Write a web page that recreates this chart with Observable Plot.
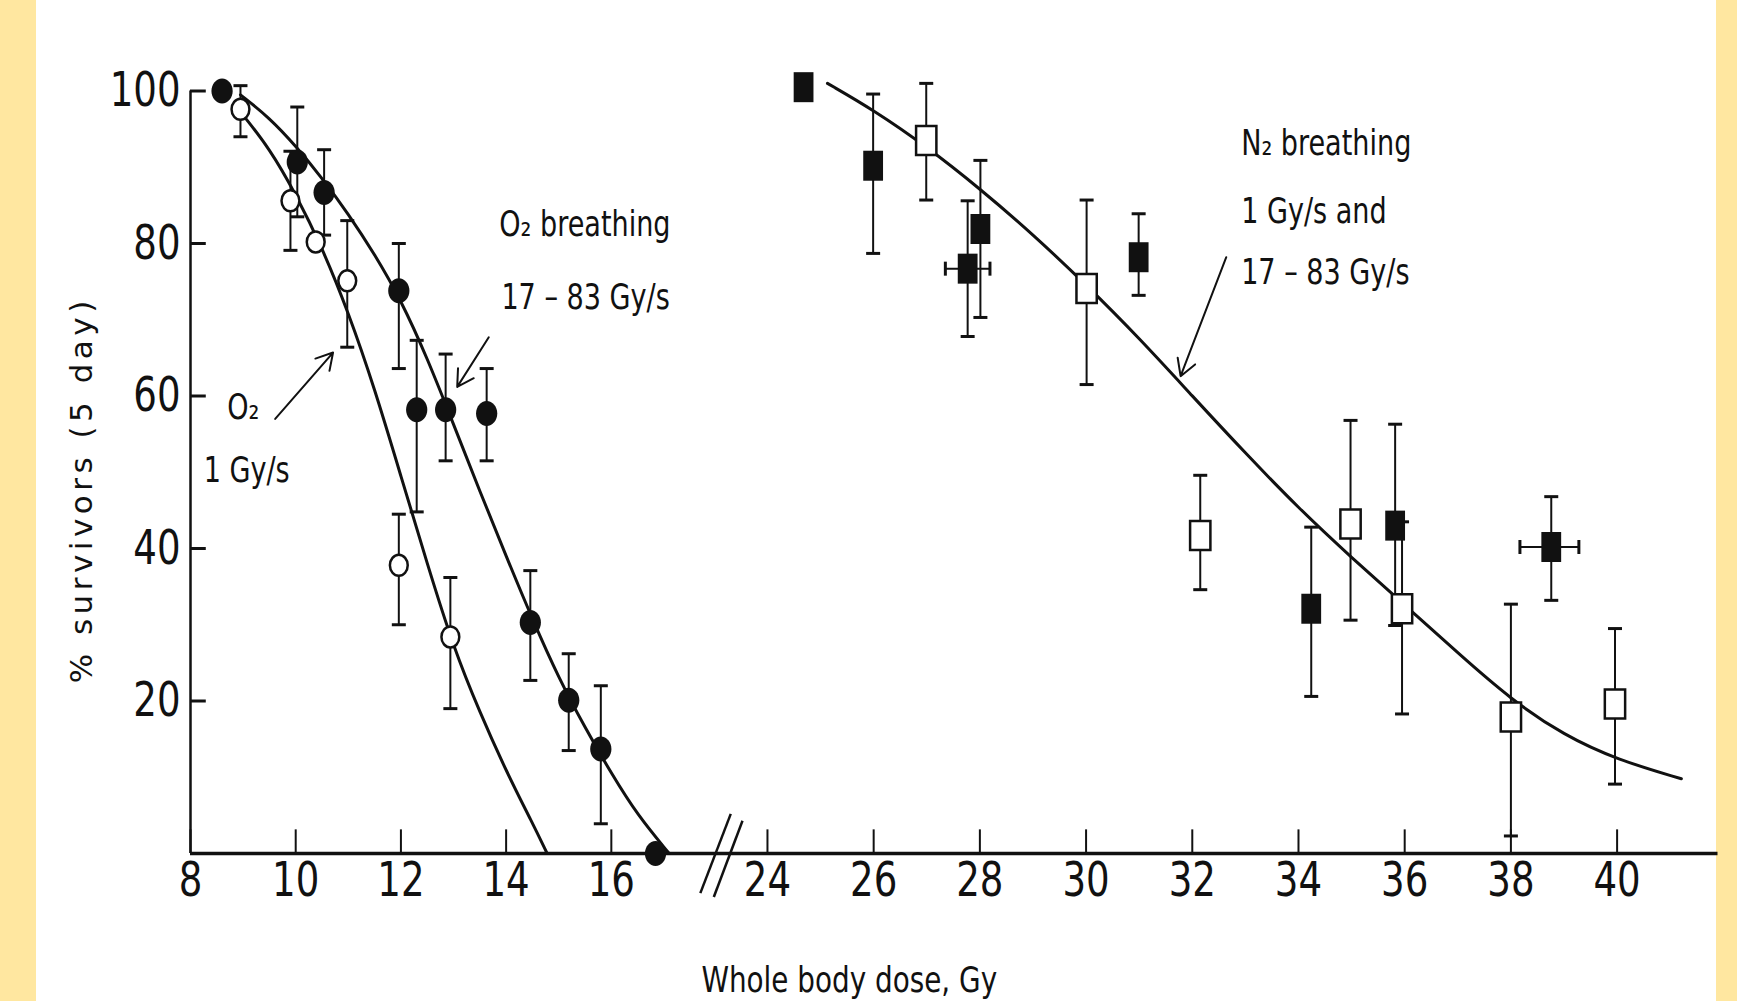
<!DOCTYPE html>
<html>
<head>
<meta charset="utf-8">
<script src="https://cdn.jsdelivr.net/npm/d3@7"></script>
<script src="https://cdn.jsdelivr.net/npm/@observablehq/plot@0.6"></script>
<style>
  html, body { margin: 0; padding: 0; width: 1737px; height: 1001px; overflow: hidden; background: #FFE7A0; }
  #panel { position: absolute; left: 36px; top: 0; width: 1680px; height: 1001px; background: #ffffff; }
</style>
</head>
<body>
<div id="panel"></div>
<script>
// ---------- tick labels ----------
const xTicks = [8, 10, 12, 14, 16, 24, 26, 28, 30, 32, 34, 36, 38, 40];
const yTicks = [20, 40, 60, 80, 100];

// ---------- O2 breathing, 17-83 Gy/s (filled circles) ----------
const o2FastX  = [8.6, 10.03, 10.54, 11.96, 12.30, 12.85, 13.63, 14.46, 15.19, 15.80, 16.84];
const o2FastY  = [100, 90.7, 86.7, 73.8, 58.2, 58.2, 57.7, 30.3, 20.1, 13.7, 0];
const o2FastLo = [null, 83.5, 81.1, 63.6, 44.8, 51.5, 51.5, 22.7, 13.5, 3.9, null];
const o2FastHi = [null, 97.9, 92.3, 80.0, 67.3, 65.5, 63.6, 37.1, 26.2, 22.0, null];

// ---------- O2, 1 Gy/s (open circles) ----------
const o2SlowX  = [8.95, 9.90, 10.38, 10.98, 11.96, 12.94];
const o2SlowY  = [97.6, 85.6, 80.2, 75.1, 37.8, 28.4];
const o2SlowLo = [94.0, 79.1, null, 66.4, 30.0, 19.0];
const o2SlowHi = [100.7, 92.1, null, 83.0, 44.5, 36.2];

// ---------- N2 breathing, 17-83 Gy/s (filled squares) ----------
const n2FastX   = [24.68, 25.99, 27.77, 28.01, 30.99, 34.24, 35.82, 38.76];
const n2FastY   = [100.5, 90.2, 76.7, 81.9, 78.2, 32.1, 43.0, 40.2];
const n2FastLo  = [null, 78.7, 67.8, 70.3, 73.2, 20.6, 29.9, 33.2];
const n2FastHi  = [null, 99.6, 85.6, 90.9, 83.9, 42.8, 56.3, 46.8];
const n2FastXLo = [null, null, 27.35, null, null, null, null, 38.17];
const n2FastXHi = [null, null, 28.19, null, null, null, null, 39.28];

// ---------- N2 breathing, 1 Gy/s (open squares) ----------
const n2SlowX  = [26.99, 30.01, 32.15, 34.98, 35.95, 38.0, 39.96];
const n2SlowY  = [93.5, 74.1, 41.7, 43.2, 32.1, 17.9, 19.6];
const n2SlowLo = [85.7, 61.5, 34.6, 30.6, 18.3, 2.3, 9.1];
const n2SlowHi = [101, 85.7, 49.6, 56.8, 43.5, 32.7, 29.5];

// ---------- fitted curves ----------
const o2FastCurveX = [8.95, 9.5, 10.0, 10.5, 11.0, 11.5, 12.0, 12.5, 13.0, 13.5, 14.0, 14.5, 15.0, 15.5, 16.0, 16.5, 17.1];
const o2FastCurveY = [99.5, 96.5, 92.8, 88.6, 83.9, 78.6, 72.6, 65.0, 56.3, 47.5, 39.0, 30.7, 23.0, 16.5, 10.5, 5.0, 0];
const o2SlowCurveX = [8.98, 9.5, 10.0, 10.5, 11.0, 11.5, 12.0, 12.5, 13.0, 13.5, 14.0, 14.5, 14.78];
const o2SlowCurveY = [97.0, 92.5, 86.5, 79.5, 71.0, 61.0, 49.5, 38.0, 27.0, 18.5, 10.8, 4.0, 0];
const n2CurveX = [25.13, 26.0, 27.0, 28.0, 29.0, 30.0, 31.0, 32.0, 33.0, 34.0, 35.0, 36.0, 37.0, 38.0, 39.0, 40.0, 41.21];
const n2CurveY = [101, 97.5, 92.7, 87.2, 81.2, 74.6, 67.6, 60.0, 52.5, 45.3, 38.8, 32.6, 26.3, 20.2, 15.5, 12.3, 9.8];

// ---------- annotations ----------
const labelText = ["O\u2082", "1 Gy/s", "O\u2082 breathing", "17 \u2013 83 Gy/s", "N\u2082 breathing", "1 Gy/s and", "17 \u2013 83 Gy/s"];
const labelX = [8.70, 8.25, 13.87, 13.91, 32.92, 32.92, 32.92];
const labelY = [58.4, 50.2, 82.5, 72.9, 93.1, 84.2, 76.1];
const arrowX1 = [9.61, 13.67, 32.64];
const arrowY1 = [57.0, 67.7, 78.2];
const arrowX2 = [10.71, 13.07, 31.78];
const arrowY2 = [65.7, 61.2, 62.6];
const breakX1 = [18.3, 20.25];
const breakY1 = [-5.2, -5.7];
const breakX2 = [22.7, 23.53];
const breakY2 = [5.2, 4.3];
const xTitle = "Whole body dose, Gy";
const yTitle = "% survivors (5 day)";

// ---------- tables ----------
const table = (xs, ys, lo, hi, xlo, xhi) => xs.map((x, i) => ({
  x, y: ys[i],
  lo: lo ? lo[i] : null, hi: hi ? hi[i] : null,
  xlo: xlo ? xlo[i] : null, xhi: xhi ? xhi[i] : null
}));
const o2Fast = table(o2FastX, o2FastY, o2FastLo, o2FastHi);
const o2Slow = table(o2SlowX, o2SlowY, o2SlowLo, o2SlowHi);
const n2Fast = table(n2FastX, n2FastY, n2FastLo, n2FastHi, n2FastXLo, n2FastXHi);
const n2Slow = table(n2SlowX, n2SlowY, n2SlowLo, n2SlowHi);
const allPts = [...o2Fast, ...o2Slow, ...n2Fast, ...n2Slow];
const vErr = allPts.filter(d => d.lo != null);
const hErr = allPts.filter(d => d.xlo != null);
const curve = (xs, ys) => xs.map((x, i) => ({x, y: ys[i]}));
const labels = labelText.map((t, i) => ({t, x: labelX[i], y: labelY[i]}));
const arrows = arrowX1.map((x1, i) => ({x1, y1: arrowY1[i], x2: arrowX2[i], y2: arrowY2[i]}));
const breaks = breakX1.map((x1, i) => ({x1, y1: breakY1[i], x2: breakX2[i], y2: breakY2[i]}));

// ---------- custom symbols ----------
const ellipse = (ax, ay) => ({draw(ctx, size) {
  const r = Math.sqrt(size / Math.PI), rx = r * ax, ry = r * ay, k = 0.5523;
  ctx.moveTo(rx, 0);
  ctx.bezierCurveTo(rx, ry * k, rx * k, ry, 0, ry);
  ctx.bezierCurveTo(-rx * k, ry, -rx, ry * k, -rx, 0);
  ctx.bezierCurveTo(-rx, -ry * k, -rx * k, -ry, 0, -ry);
  ctx.bezierCurveTo(rx * k, -ry, rx, -ry * k, rx, 0);
  ctx.closePath();
}});
const box = (ax, ay) => ({draw(ctx, size) {
  const r = Math.sqrt(size / Math.PI);
  ctx.rect(-r * ax, -r * ay, 2 * r * ax, 2 * r * ay);
}});
const capH = {draw(ctx, size) { const r = Math.sqrt(size / Math.PI); ctx.moveTo(-r, 0); ctx.lineTo(r, 0); }};
const capV = {draw(ctx, size) { const r = Math.sqrt(size / Math.PI); ctx.moveTo(0, -r); ctx.lineTo(0, r); }};

const NARROW = "'Liberation Sans Narrow', 'DejaVu Sans Condensed', 'Roboto Condensed', sans-serif";
const INK = "#111";

const chart = Plot.plot({
  width: 1680,
  height: 1001,
  marginLeft: 154,
  marginRight: 0,
  marginTop: 90,
  marginBottom: 148,
  style: {background: "transparent", color: INK, fontFamily: NARROW, overflow: "visible"},
  x: {type: "linear", domain: [8, 17.6, 23.4, 41.9], range: [154, 659, 699.1, 1681.5]},
  y: {type: "linear", domain: [0, 100], range: [853, 90.5]},
  marks: [
    // axes
    Plot.ruleY([0], {x1: 8, x2: 41.9, stroke: INK, strokeWidth: 3.5}),
    Plot.ruleX([8], {y1: 0, y2: 100, stroke: INK, strokeWidth: 2.5}),
    Plot.ruleX(xTicks, {x: d => d, y1: 0, y2: 3.1, stroke: INK, strokeWidth: 2}),
    Plot.ruleY(yTicks, {y: d => d, x1: 8, x2: 8.3, stroke: INK, strokeWidth: 3}),
    Plot.axisX({ticks: xTicks, tickSize: 0, tickPadding: 8, fontSize: 48, fontWeight: 300, fontFamily: NARROW, label: null, tickFormat: d => String(d)}),
    Plot.axisY({ticks: yTicks, tickSize: 0, tickPadding: 10, fontSize: 48, fontWeight: 300, fontFamily: NARROW, label: null, tickFormat: d => String(d)}),
    Plot.link(breaks, {x1: "x1", y1: "y1", x2: "x2", y2: "y2", stroke: INK, strokeWidth: 2.5}),
    // curves
    Plot.line(curve(o2FastCurveX, o2FastCurveY), {x: "x", y: "y", curve: "basis", stroke: INK, strokeWidth: 3}),
    Plot.line(curve(o2SlowCurveX, o2SlowCurveY), {x: "x", y: "y", curve: "basis", stroke: INK, strokeWidth: 3}),
    Plot.line(curve(n2CurveX, n2CurveY), {x: "x", y: "y", curve: "basis", stroke: INK, strokeWidth: 3}),
    // error bars
    Plot.ruleX(vErr, {x: "x", y1: "lo", y2: "hi", stroke: INK, strokeWidth: 2}),
    Plot.dot(vErr, {x: "x", y: "lo", symbol: capH, r: 7, stroke: INK, strokeWidth: 3}),
    Plot.dot(vErr, {x: "x", y: "hi", symbol: capH, r: 7, stroke: INK, strokeWidth: 3}),
    Plot.ruleY(hErr, {y: "y", x1: "xlo", x2: "xhi", stroke: INK, strokeWidth: 2}),
    Plot.dot(hErr, {x: "xlo", y: "y", symbol: capV, r: 7, stroke: INK, strokeWidth: 3}),
    Plot.dot(hErr, {x: "xhi", y: "y", symbol: capV, r: 7, stroke: INK, strokeWidth: 3}),
    // markers
    Plot.dot(o2Fast, {x: "x", y: "y", symbol: ellipse(0.85, 1), r: 12.5, fill: INK, stroke: "none"}),
    Plot.dot(o2Slow, {x: "x", y: "y", symbol: ellipse(0.85, 1), r: 10.5, fill: "white", stroke: INK, strokeWidth: 2.5}),
    Plot.dot(n2Fast, {x: "x", y: "y", symbol: box(0.66, 1), r: 15, fill: INK, stroke: "none"}),
    Plot.dot(n2Slow, {x: "x", y: "y", symbol: box(0.7, 1), r: 14.5, fill: "white", stroke: INK, strokeWidth: 2.5}),
    // annotations
    Plot.arrow(arrows, {x1: "x1", y1: "y1", x2: "x2", y2: "y2", stroke: INK, strokeWidth: 2, headLength: 14}),
    Plot.text(labels, {x: "x", y: "y", text: "t", textAnchor: "start", lineAnchor: "middle", fontSize: 35, fontFamily: NARROW, fill: INK}),
    Plot.text([xTitle], {x: 25.54, y: -16.7, text: d => d, textAnchor: "middle", lineAnchor: "middle", fontSize: 36, fontFamily: NARROW, fill: INK}),
    Plot.text([yTitle], {x: 5.93, y: 47.7, text: d => d, rotate: -90, textAnchor: "middle", lineAnchor: "middle", fontSize: 31, fontFamily: "'DejaVu Sans', sans-serif", fill: INK})
  ]
});
// narrow the condensed lettering to match the figure's typeface proportions
d3.select(chart).selectAll("text").each(function() {
  if (this.textContent === yTitle) { this.setAttribute("letter-spacing", "4.5px"); return; }
  const t = this.getAttribute("transform");
  if (t) {
    this.setAttribute("transform", t + " scale(0.86,1)");
  } else {
    const x = +this.getAttribute("x") || 0, y = +this.getAttribute("y") || 0;
    this.removeAttribute("x"); this.removeAttribute("y");
    this.setAttribute("transform", `translate(${x},${y}) scale(0.86,1)`);
  }
});
document.getElementById("panel").appendChild(chart);
</script>
</body>
</html>
